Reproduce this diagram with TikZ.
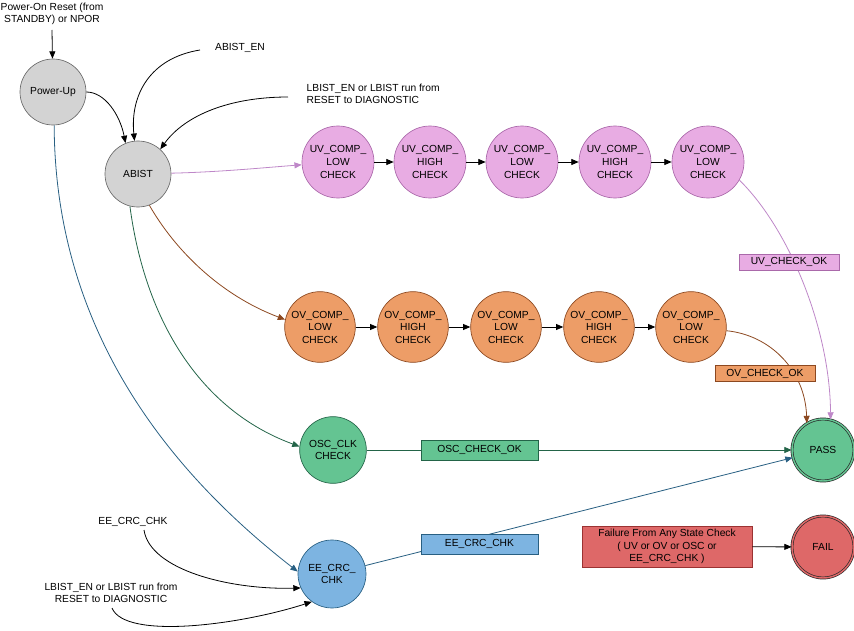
\documentclass[tikz,border=0pt]{standalone}
\usepackage{fontspec}
\setmainfont{Liberation Sans}
\usepackage{xcolor}
\usepackage{tikz}
\usetikzlibrary{arrows.meta}

\definecolor{idlefill}{RGB}{211,211,211}
\definecolor{idleline}{RGB}{105,105,105}
\definecolor{uvfill}{RGB}{232,172,227}
\definecolor{uvline}{RGB}{170,105,170}
\definecolor{uvarrow}{RGB}{190,135,200}
\definecolor{ovfill}{RGB}{237,157,103}
\definecolor{ovline}{RGB}{140,72,32}
\definecolor{oscfill}{RGB}{100,196,146}
\definecolor{oscline}{RGB}{35,100,72}
\definecolor{eefill}{RGB}{125,180,225}
\definecolor{eeline}{RGB}{40,95,130}
\definecolor{failfill}{RGB}{222,104,104}
\definecolor{failline}{RGB}{155,50,50}

\begin{document}
\begin{tikzpicture}[x=0.75pt,y=0.75pt,yscale=-1,xscale=1,
  font=\fontsize{7.7}{9.4}\selectfont,
  base/.style={circle,inner sep=0pt,align=center,line width=0.5pt},
  idle/.style={base,minimum size=49.5pt,fill=idlefill,draw=idleline},
  uvchk/.style={base,minimum size=54pt,fill=uvfill,draw=uvline},
  ovchk/.style={base,minimum size=53pt,fill=ovfill,draw=ovline},
  oscchk/.style={base,minimum size=50pt,fill=oscfill,draw=oscline},
  eechk/.style={base,minimum size=51pt,fill=eefill,draw=eeline},
  final/.style={base,minimum size=46.5pt,draw={rgb, 255:red, 40; green, 40; blue, 40 },double distance=1.1pt},
  flag/.style={rectangle,inner sep=0pt,line width=0.6pt,minimum width=75pt,minimum height=12pt},
  link/.style={line width=0.6pt,-{Triangle[length=5.5pt,width=4.5pt]}}
]
\useasboundingbox (0,0) rectangle (854,631);

%Shape: Circle
\node (pwr) at (53,92) [idle] {Power-Up};
\node (abist) at (138,174) [idle] {ABIST};
%Shape: Circle (UV chain)
\node (uva) at (338,162) [uvchk] {UV\_COMP\_\\LOW\\CHECK};
\node (uvb) at (430,162) [uvchk] {UV\_COMP\_\\HIGH\\CHECK};
\node (uvc) at (522,162) [uvchk] {UV\_COMP\_\\LOW\\CHECK};
\node (uvd) at (615,162) [uvchk] {UV\_COMP\_\\HIGH\\CHECK};
\node (uve) at (708,162) [uvchk] {UV\_COMP\_\\LOW\\CHECK};
%Shape: Circle (OV chain)
\node (ova) at (320,327) [ovchk] {OV\_COMP\_\\LOW\\CHECK};
\node (ovb) at (413,327) [ovchk] {OV\_COMP\_\\HIGH\\CHECK};
\node (ovc) at (506,327) [ovchk] {OV\_COMP\_\\LOW\\CHECK};
\node (ovd) at (599,327) [ovchk] {OV\_COMP\_\\HIGH\\CHECK};
\node (ove) at (691,327) [ovchk] {OV\_COMP\_\\LOW\\CHECK};
%Shape: Circle
\node (osc) at (333,450) [oscchk] {OSC\_CLK\\CHECK};
\node (ee) at (332,574) [eechk] {EE\_CRC\_\\CHK};
\node (pass) at (823,450) [final,fill=oscfill,double=oscfill] {PASS};
\node (fail) at (823,547) [final,fill=failfill,double=failfill] {FAIL};

% Text Node
\node (por) at (52,14) [align=center] {Power-On Reset (from\\STANDBY) or NPOR};
\node (abisten) at (240,48) {ABIST\_EN};
\node (lbistup) at (302,94) [anchor=west,align=left] {LBIST\_EN or LBIST run from\\RESET to DIAGNOSTIC};
\node (eecrc) at (133,522) {EE\_CRC\_CHK};
\node (lbistlow) at (111,593) [align=center] {LBIST\_EN or LBIST run from\\RESET to DIAGNOSTIC};

\coordinate (porend) at (52,30);
\coordinate (abistenend) at (200,50);
\coordinate (lbistupend) at (288,97);
\coordinate (eecrcend) at (144,530);
\coordinate (lbistlowend) at (112,608);

%Straight Lines
\draw [link] (porend) -- (pwr);
\foreach \a/\b in {uva/uvb,uvb/uvc,uvc/uvd,uvd/uve,ova/ovb,ovb/ovc,ovc/ovd,ovd/ove}
  \draw [link] (\a) -- (\b);

%Curve Lines
\draw [link] (pwr.east) .. controls (105,92) and (120,115) .. (abist.112);
\draw [link] (abistenend) .. controls (150,58) and (130,95) .. (abist.96);
\draw [link] (lbistupend) .. controls (230,97) and (185,115) .. (abist.48);
\draw [link,color=uvarrow] (abist) .. controls (220,172) and (260,168) .. (uva);
\draw [link,color=ovline] (abist.290) .. controls (175,250) and (220,295) .. (ova.168);
\draw [link,color=oscline] (abist.256) .. controls (145,320) and (200,410) .. (osc.174);
\draw [link,color=eeline] (pwr.272) .. controls (55,340) and (180,480) .. (ee.176);
\draw [link] (eecrcend) .. controls (150,570) and (230,590) .. (ee.204);
\draw [link] (lbistlowend) .. controls (125,640) and (240,625) .. (ee.234);
\draw [link,color=uvarrow] (uve.-30) .. controls (790,230) and (830,330) .. (pass.76);
\draw [link,color=ovline] (ove.-6) .. controls (770,335) and (805,370) .. (pass.121);
\draw [link,color=oscline] (osc) -- (pass);
\draw [link,color=eeline] (ee) -- (pass);

% Text Node
\node (uvok) at (789,262) [flag,fill=uvfill,draw=uvline] {UV\_CHECK\_OK};
\node (ovok) at (765,373.5) [flag,fill=ovfill,draw=ovline] {OV\_CHECK\_OK};
\node (oscok) at (479.5,450) [flag,minimum width=87.75pt,minimum height=15pt,fill=oscfill,draw=oscline] {OSC\_CHECK\_OK};
\node (eeok) at (479.5,544) [flag,minimum width=87.75pt,minimum height=15pt,fill=eefill,draw=eeline] {EE\_CRC\_CHK};
\node (failbox) at (667,546.5) [flag,minimum width=127.5pt,minimum height=30.75pt,align=center,fill=failfill,draw=failline] {Failure From Any State Check\\( UV or OV or OSC or\\EE\_CRC\_CHK )};

\draw [link] (failbox) -- (fail);

\end{tikzpicture}
\end{document}
